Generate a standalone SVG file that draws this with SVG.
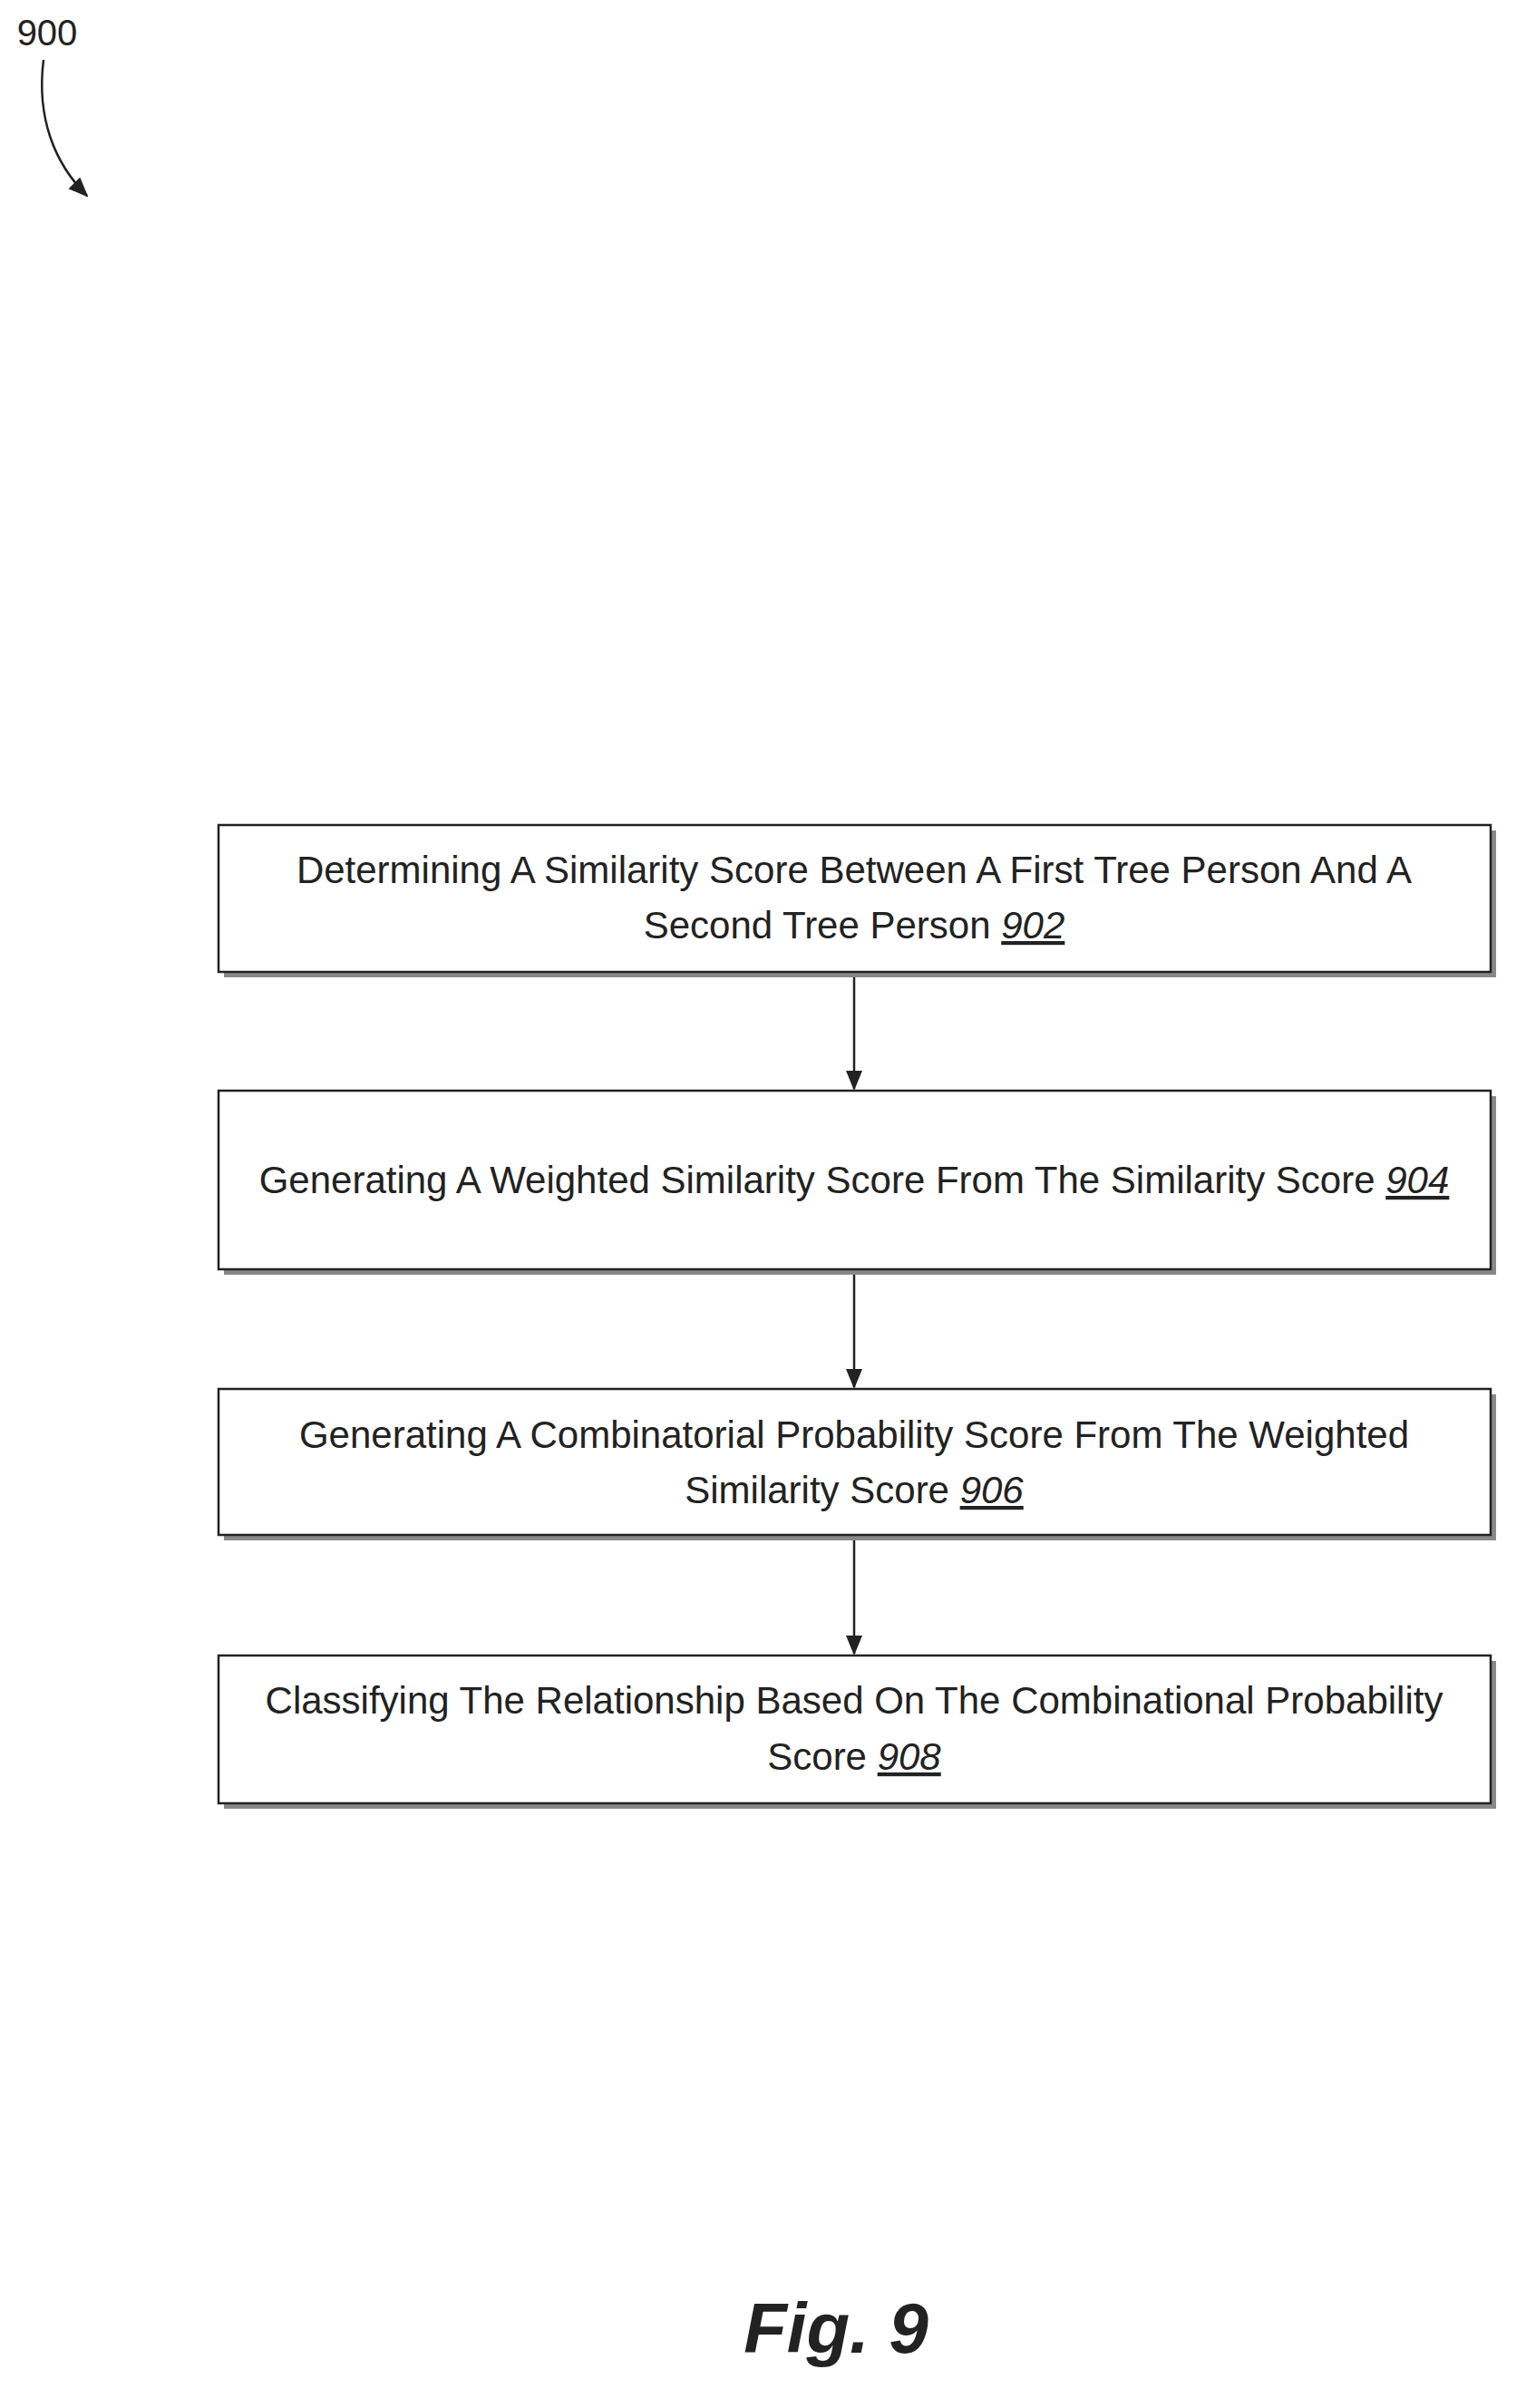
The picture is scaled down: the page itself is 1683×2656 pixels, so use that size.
<svg xmlns="http://www.w3.org/2000/svg" width="1683" height="2656" viewBox="0 0 1683 2656">
<style>
.box{fill:#fff;stroke:#222;stroke-width:2.5}
.sh{fill:#888}
.t{font-family:"Liberation Sans",Arial,sans-serif;font-size:42px;fill:#222;text-anchor:middle}
.c{stroke:#222;stroke-width:2.5;fill:none}
</style>
<defs>
<marker id="ah2" markerWidth="22" markerHeight="22" refX="20" refY="11" orient="auto" markerUnits="userSpaceOnUse" viewBox="0 0 22 22"><path d="M0,2 L22,11 L0,20 z" fill="#222"/></marker>
</defs>
<rect width="1683" height="2656" fill="#fff"/>
<g id="label900">
<text x="52" y="50" class="t" style="font-size:40px">900</text>
<path class="c" d="M48,66 C40,130 60,180 96,216" marker-end="url(#ah2)"/>
</g>
<g id="n902">
<rect class="sh" x="247" y="916" width="1403" height="162"/>
<rect class="box" x="241" y="910" width="1403" height="162"/>
<text class="t" x="942" y="974">Determining A Similarity Score Between A First Tree Person And A</text>
<text class="t" x="942" y="1035">Second Tree Person <tspan font-style="italic" text-decoration="underline">902</tspan></text>
</g>
<g id="n904">
<rect class="sh" x="247" y="1209" width="1403" height="197"/>
<rect class="box" x="241" y="1203" width="1403" height="197"/>
<text class="t" x="942" y="1316">Generating A Weighted Similarity Score From The Similarity Score <tspan font-style="italic" text-decoration="underline">904</tspan></text>
</g>
<g id="n906">
<rect class="sh" x="247" y="1538" width="1403" height="161"/>
<rect class="box" x="241" y="1532" width="1403" height="161"/>
<text class="t" x="942" y="1597">Generating A Combinatorial Probability Score From The Weighted</text>
<text class="t" x="942" y="1658">Similarity Score <tspan font-style="italic" text-decoration="underline">906</tspan></text>
</g>
<g id="n908">
<rect class="sh" x="247" y="1832" width="1403" height="163"/>
<rect class="box" x="241" y="1826" width="1403" height="163"/>
<text class="t" x="942" y="1890">Classifying The Relationship Based On The Combinational Probability</text>
<text class="t" x="942" y="1952">Score <tspan font-style="italic" text-decoration="underline">908</tspan></text>
</g>
<g id="connectors">
<line class="c" x1="942" y1="1078" x2="942" y2="1201" marker-end="url(#ah2)"/>
<line class="c" x1="942" y1="1406" x2="942" y2="1530" marker-end="url(#ah2)"/>
<line class="c" x1="942" y1="1699" x2="942" y2="1824" marker-end="url(#ah2)"/>
</g>
<text x="922" y="2595" class="t" style="font-size:78px;font-weight:bold;font-style:italic">Fig. 9</text>
</svg>
